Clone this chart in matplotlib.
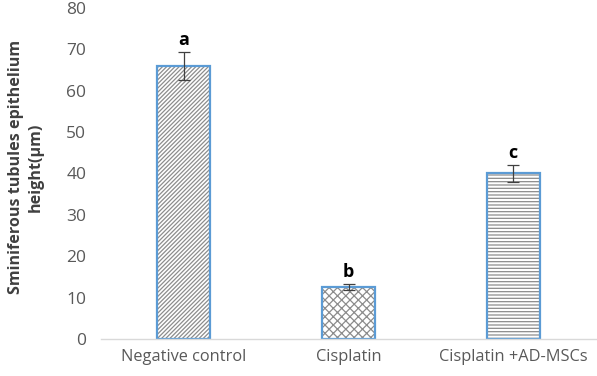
import matplotlib
matplotlib.use("Agg")
import matplotlib.pyplot as plt

categories = ["Negative control", "Cisplatin", "Cisplatin +AD-MSCs"]
values = [66.0, 12.6, 40.0]
errors = [3.4, 0.7, 2.1]
letters = ["a", "b", "c"]
hatches = ["////////", "xxxx", "-----"]
yticks = [0, 10, 20, 30, 40, 50, 60, 70, 80]

plt.rcParams['font.family'] = ['Open Sans', 'DejaVu Sans']
plt.rcParams['hatch.linewidth'] = 0.9

fig = plt.figure(figsize=(5.97, 3.76), dpi=100)
ax = fig.add_axes([101.5/597, 1-339/376, 494/597, 331/376])

x = list(range(len(categories)))
for i in x:
    ax.bar(i, values[i], width=0.32, color='white', edgecolor='#8c8c8c',
           linewidth=0, hatch=hatches[i], zorder=2)
    ax.bar(i, values[i], width=0.32, fill=False, edgecolor='#5b9bd5',
           linewidth=1.6, zorder=2.5)
ax.errorbar(x, values, yerr=errors, fmt='none', ecolor='#404040',
            elinewidth=0.9, capsize=4, capthick=0.9, zorder=3)
for i in x:
    ax.text(i, values[i] + errors[i] + 0.8, letters[i], ha='center', va='bottom',
            fontsize=13, fontweight='bold', color='black')

ax.set_xlim(-0.5, 2.5)
ax.set_ylim(0, 80)
ax.set_yticks(yticks)
ax.set_xticks(x)
ax.set_xticklabels(categories, fontsize=11.8, color='#595959')
ax.tick_params(axis='y', length=0, labelsize=12.5, labelcolor='#595959', pad=11)
ax.tick_params(axis='x', length=0, pad=7)
for s in ['top', 'right', 'left']:
    ax.spines[s].set_visible(False)
ax.spines['bottom'].set_color('#d9d9d9')
ax.spines['bottom'].set_linewidth(1)

fig.text(0.043, 0.555, "Sminiferous tubules epithelium\nheight(\u00b5m)", rotation=90,
         ha='center', va='center', fontsize=11.6, fontweight='bold', color='#404040',
         multialignment='center', linespacing=1.3)

fig.savefig("out.png", dpi=100)
